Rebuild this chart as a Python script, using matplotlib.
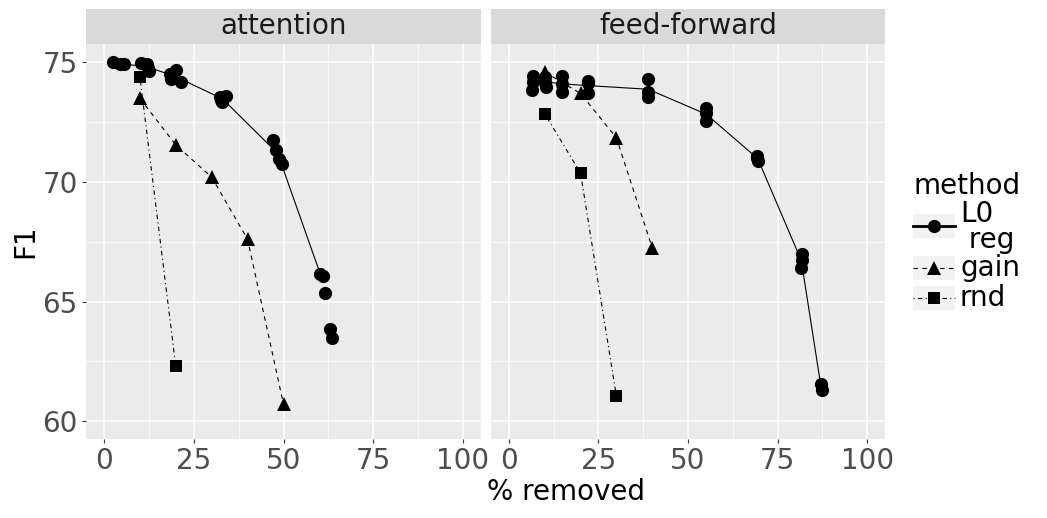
import numpy as np
import matplotlib.pyplot as plt
from matplotlib.patches import Rectangle
from matplotlib.lines import Line2D

W, H = 1047, 518

# attention panel
att_l0_x = [2.5, 4.5, 5.5, 10.3, 12.0, 12.5, 12.3, 18.3, 20.1, 21.5, 18.7,
            32.3, 33.0, 34.0, 32.6, 47.2, 47.9, 48.7, 49.7, 60.3, 61.0, 61.5,
            62.9, 63.5]
att_l0_y = [75.0, 74.93, 74.92, 74.97, 74.95, 74.62, 74.75, 74.53, 74.69, 74.18, 74.32,
            73.55, 73.35, 73.6, 73.42, 71.74, 71.32, 70.97, 70.76, 66.16, 66.05, 65.36,
            63.86, 63.48]
att_l0_grp = [1, 1, 1, 2, 2, 2, 2, 3, 3, 3, 3, 4, 4, 4, 4, 5, 5, 5, 5, 6, 6, 6, 7, 7]
att_l0_line = [1, 2, 3, 4, 5, 6]
att_gain_x = [10, 20, 30, 40, 50]
att_gain_y = [73.5, 71.55, 70.2, 67.6, 60.7]
att_rnd_x = [10, 20]
att_rnd_y = [74.4, 62.3]

# feed-forward panel
ff_l0_x = [6.7, 6.7, 6.5, 10.2, 10.2, 10.4, 14.8, 14.8, 14.8, 22.2, 22.0, 22.2,
           38.9, 38.9, 38.9, 55.1, 55.1, 55.1, 69.4, 69.4, 69.6, 81.7, 81.7, 81.5,
           87.0, 87.3]
ff_l0_y = [74.45, 74.2, 73.85, 74.4, 74.18, 73.98, 74.45, 74.1, 73.76, 74.22, 74.15, 73.72,
           74.32, 73.76, 73.55, 73.1, 72.87, 72.53, 71.07, 71.0, 70.86, 67.0, 66.72, 66.42,
           61.53, 61.3]
ff_l0_grp = [1, 1, 1, 2, 2, 2, 3, 3, 3, 4, 4, 4, 5, 5, 5, 6, 6, 6, 7, 7, 7, 8, 8, 8, 9, 9]
ff_l0_line = [1, 2, 3, 4, 5, 6, 7, 8, 9]
ff_gain_x = [10, 20, 30, 40]
ff_gain_y = [74.6, 73.7, 71.85, 67.25]
ff_rnd_x = [10, 20, 30]
ff_rnd_y = [72.85, 70.37, 61.05]

panel_titles = ["attention", "feed-forward"]
x_ticks = [0, 25, 50, 75, 100]
y_ticks = [60, 65, 70, 75]
methods = ["L0\n reg", "gain", "rnd"]

PANEL_BG = "#EBEBEB"
STRIP_BG = "#D9D9D9"
DASHED = (0, (4, 4))
DOTDASH = (0, (1, 3, 4, 3))


def box(x0, y0, x1, y1):
    # pixel box -> figure fraction rect
    return [x0 / W, 1 - y1 / H, (x1 - x0) / W, (y1 - y0) / H]


def draw_panel(ax, l0_x, l0_y, l0_grp, l0_line, gain_x, gain_y, rnd_x, rnd_y):
    l0_x, l0_y, l0_grp = np.array(l0_x), np.array(l0_y), np.array(l0_grp)
    mx = [l0_x[l0_grp == g].mean() for g in l0_line]
    my = [l0_y[l0_grp == g].mean() for g in l0_line]

    ax.plot(mx, my, color="black", lw=0.8, zorder=3)
    ax.plot(gain_x, gain_y, color="black", lw=0.8, ls=DASHED, zorder=3)
    ax.plot(rnd_x, rnd_y, color="black", lw=0.8, ls=DOTDASH, zorder=3)

    ax.plot(l0_x, l0_y, "o", color="black", ms=9.5, mew=0, zorder=4)
    ax.plot(gain_x, gain_y, "^", color="black", ms=10, mew=0, zorder=4)
    ax.plot(rnd_x, rnd_y, "s", color="black", ms=9, mew=0, zorder=4)

    ax.set_facecolor(PANEL_BG)
    ax.set_xlim(-5, 105)
    ax.set_ylim(59.25, 75.77)
    ax.set_xticks(x_ticks)
    ax.set_yticks(y_ticks)
    ax.set_xticks([12.5, 37.5, 62.5, 87.5], minor=True)
    ax.set_yticks([62.5, 67.5, 72.5], minor=True)
    ax.grid(which="major", color="white", lw=1.1, zorder=0)
    ax.grid(which="minor", color="white", lw=0.55, zorder=0)
    ax.set_axisbelow(True)
    for s in ax.spines.values():
        s.set_visible(False)
    ax.tick_params(which="major", length=3, width=0.8, color="#333333",
                   labelsize=20, labelcolor="#4D4D4D", pad=3)
    ax.tick_params(which="minor", length=0)


def main():
    fig = plt.figure(figsize=(W / 100, H / 100), dpi=100)

    ax1 = fig.add_axes(box(86, 44, 481, 439))
    ax2 = fig.add_axes(box(491, 44, 885, 439))
    draw_panel(ax1, att_l0_x, att_l0_y, att_l0_grp, att_l0_line,
               att_gain_x, att_gain_y, att_rnd_x, att_rnd_y)
    draw_panel(ax2, ff_l0_x, ff_l0_y, ff_l0_grp, ff_l0_line,
               ff_gain_x, ff_gain_y, ff_rnd_x, ff_rnd_y)
    ax2.tick_params(axis="y", which="both", left=False, labelleft=False)

    # facet strips
    for (x0, x1), title in zip([(86, 481), (491, 885)], panel_titles):
        st = fig.add_axes(box(x0, 9, x1, 44))
        st.set_facecolor(STRIP_BG)
        st.set_xticks([])
        st.set_yticks([])
        for s in st.spines.values():
            s.set_visible(False)
        st.text(0.5, 0.5, title, ha="center", va="center", fontsize=20,
                color="#1A1A1A", transform=st.transAxes)

    fig.text(566 / W, 1 - 492 / H, "% removed", ha="center", va="center", fontsize=20)
    fig.text(25 / W, 1 - 241 / H, "F1", ha="center", va="center", fontsize=20,
             rotation=90)

    # legend, drawn by hand so keys get the grey ggplot background
    lg = fig.add_axes([0, 0, 1, 1])
    lg.set_xlim(0, W)
    lg.set_ylim(H, 0)
    lg.axis("off")
    lg.patch.set_alpha(0)
    lg.text(914, 186, "method", ha="left", va="center", fontsize=20)
    key_y = [226, 268, 298]
    key_ls = ["-", DASHED, DOTDASH]
    key_lw = [2.0, 0.8, 0.8]
    key_mk = ["o", "^", "s"]
    key_ms = [9.5, 10, 9]
    for yk, lab, ls, lw, mk, ms in zip(key_y, methods, key_ls, key_lw, key_mk, key_ms):
        lg.add_patch(Rectangle((913, yk - 12), 42, 24, color="#F2F2F2", lw=0))
        lg.add_line(Line2D([913, 955], [yk, yk], color="black", lw=lw, ls=ls))
        lg.add_line(Line2D([934], [yk], marker=mk, ms=ms, mew=0, color="black"))
        lg.text(960, yk + (1 if "\n" in lab else 0), lab, ha="left", va="center",
                fontsize=20, linespacing=0.95)

    plt.savefig("out.png", dpi=100)


if __name__ == '__main__':
    main()
